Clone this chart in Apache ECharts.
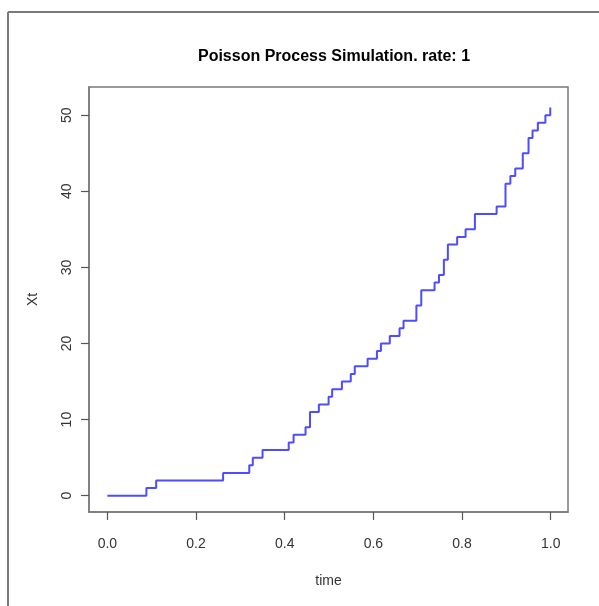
<!DOCTYPE html>
<html>
<head>
<meta charset="utf-8">
<title>Poisson Process Simulation</title>
<script src="https://cdn.jsdelivr.net/npm/echarts@6/dist/echarts.min.js"></script>
<style>
  html, body { margin: 0; padding: 0; background: #fff; }
  #main { width: 599px; height: 606px; }
</style>
</head>
<body>
<div id="main"></div>
<script>
// jump times of the simulated process and the count reached at each one
const jumpTimes = [
  0.000, 0.088, 0.110, 0.261, 0.320, 0.328, 0.350, 0.409, 0.420, 0.447,
  0.457, 0.477, 0.499, 0.507, 0.529, 0.549, 0.558, 0.587, 0.608, 0.617,
  0.637, 0.659, 0.668, 0.697, 0.708, 0.738, 0.748, 0.759, 0.768, 0.789,
  0.808, 0.829, 0.878, 0.898, 0.909, 0.920, 0.937, 0.950, 0.959, 0.971,
  0.988, 0.999
];
const counts = [
  0, 1, 2, 3, 4, 5, 6, 7, 8, 9,
  11, 12, 13, 14, 15, 16, 17, 18, 19, 20,
  21, 22, 23, 25, 27, 28, 29, 31, 33, 34,
  35, 37, 38, 41, 42, 43, 45, 47, 48, 49,
  50, 51
];
const xTicks = [0, 0.2, 0.4, 0.6, 0.8, 1.0];
const yTicks = [0, 10, 20, 30, 40, 50];

const chart = echarts.init(document.getElementById('main'), null, { renderer: 'canvas' });

const frameColor = '#7a7a7a';
const textColor = '#333';
const font = 'Liberation Sans, Arial, sans-serif';

let option = {
  backgroundColor: '#fff',
  animation: false,
  title: {
    text: 'Poisson Process Simulation. rate: 1',
    left: 329,
    top: 44,
    textAlign: 'center',
    textStyle: { fontFamily: font, fontSize: 16, fontWeight: 'bold', color: '#000' }
  },
  grid: {
    left: 89, right: 31, top: 87, bottom: 94,
    show: true,
    borderColor: frameColor,
    borderWidth: 1.5,
    containLabel: false
  },
  xAxis: {
    type: 'value',
    min: -0.0415,
    max: 1.039,
    name: 'time',
    nameLocation: 'middle',
    nameGap: 62,
    nameTextStyle: { fontFamily: font, fontSize: 14, color: textColor },
    splitLine: { show: false },
    axisLine: { show: true, onZero: false, lineStyle: { color: frameColor, width: 1.5 } },
    axisTick: { show: true, inside: false, length: 8, customValues: xTicks, lineStyle: { color: '#555', width: 1.2 } },
    axisLabel: {
      customValues: xTicks,
      margin: 25,
      fontFamily: font, fontSize: 14, color: textColor,
      formatter: v => v.toFixed(1)
    }
  },
  yAxis: {
    type: 'value',
    min: -2.14,
    max: 53.7,
    name: 'Xt',
    nameLocation: 'middle',
    nameGap: 49,
    nameTextStyle: { fontFamily: font, fontSize: 14, color: textColor },
    splitLine: { show: false },
    axisLine: { show: true, onZero: false, lineStyle: { color: frameColor, width: 1.5 } },
    axisTick: { show: true, inside: false, length: 8, customValues: yTicks, lineStyle: { color: '#555', width: 1.2 } },
    axisLabel: {
      customValues: yTicks,
      rotate: 90,
      margin: 15,
      fontFamily: font, fontSize: 14, color: textColor
    }
  },
  graphic: [
    // outer frame of the original window (left and top edges only)
    { type: 'line', shape: { x1: 8, y1: 12, x2: 8, y2: 606 }, style: { stroke: frameColor, lineWidth: 2 } },
    { type: 'line', shape: { x1: 8, y1: 12, x2: 599, y2: 12 }, style: { stroke: frameColor, lineWidth: 2 } }
  ],
  series: [
    {
      name: 'Xt',
      type: 'line',
      step: 'end',
      showSymbol: false,
      lineStyle: { color: '#4d4dff', width: 2 },
      data: jumpTimes.map((t, i) => [t, counts[i]])
    }
  ]
};

chart.setOption(option);
</script>
</body>
</html>
